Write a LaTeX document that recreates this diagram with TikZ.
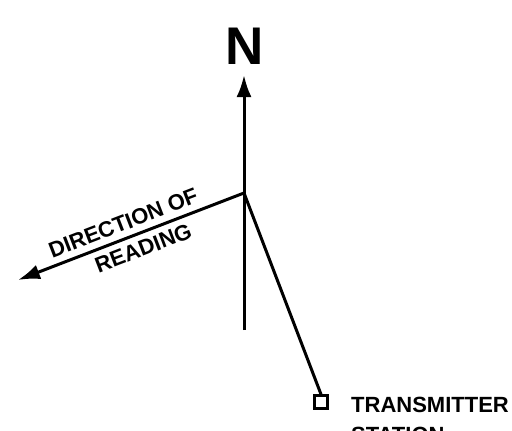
\documentclass[tikz,border=0pt]{standalone}
\usepackage{fontspec}
\setmainfont{Liberation Sans}
\usetikzlibrary{arrows.meta, positioning}
\tikzset{
	bearing/.style  ={line width=3pt, -{Latex[length=22pt, width=15pt]}},
	plainline/.style={line width=3pt},
	caplabel/.style ={font=\fontsize{22}{30}\selectfont\bfseries, inner sep=0pt},
	station/.style  ={rectangle, draw, line width=2.4pt, minimum size=13pt, inner sep=0pt},
}
\begin{document}
\begin{tikzpicture}[x=1pt, y=-1pt]
	\useasboundingbox (0,0) rectangle (512,431);
	\coordinate (obs) at (244,193);
	\coordinate (nTip) at (244,75);
	\coordinate (south) at (244,330);
	\coordinate (readTip) at (18,280);
	\node[station] (tx) at (321,402) {};
	\node[caplabel, font=\fontsize{53}{53}\selectfont\bfseries] (north) at (244.5,46) {N};
	\node[caplabel, anchor=north west, align=left] (txlabel) at (351,397) {TRANSMITTER\\STATION};
	% north line and bearing to the station
	\draw[bearing] (south) -- (nTip);
	\draw[plainline] (obs) -- (tx.north);
	\draw[bearing] (obs) -- (readTip)
		node[caplabel, pos=0.51, sloped, above=6pt] {DIRECTION OF}
		node[caplabel, pos=0.47, sloped, below=6pt] {READING};
\end{tikzpicture}
\end{document}
